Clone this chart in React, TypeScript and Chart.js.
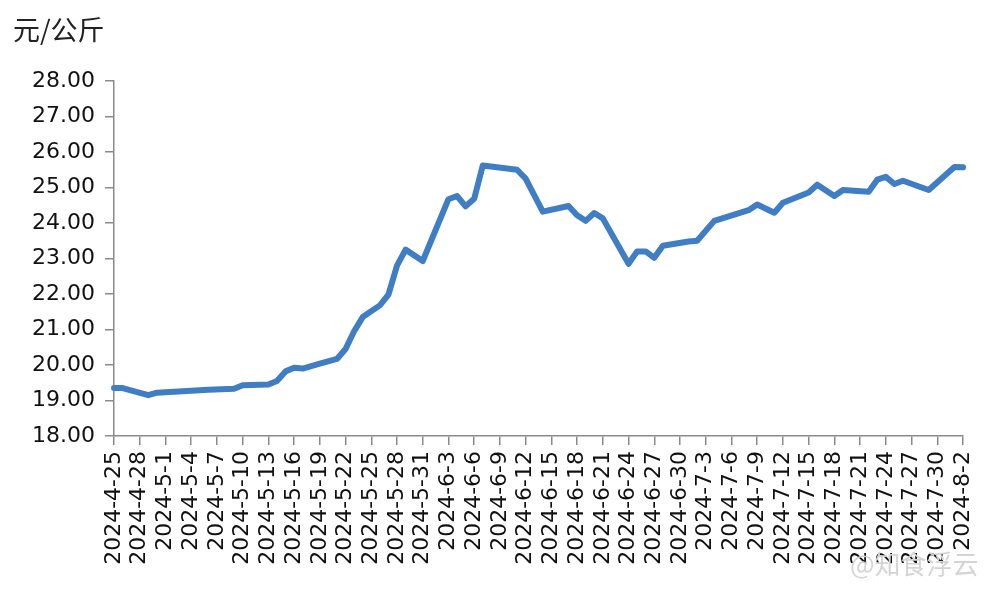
import React, { useEffect, useRef } from 'react';
import { Chart, registerables } from 'chart.js';

Chart.register(...registerables);

const categories: string[] = [
  '2024-4-25', '2024-4-26', '2024-4-27', '2024-4-28', '2024-4-29', '2024-4-30',
  '2024-5-1', '2024-5-2', '2024-5-3', '2024-5-4', '2024-5-5', '2024-5-6', '2024-5-7', '2024-5-8', '2024-5-9', '2024-5-10',
  '2024-5-11', '2024-5-12', '2024-5-13', '2024-5-14', '2024-5-15', '2024-5-16', '2024-5-17', '2024-5-18', '2024-5-19', '2024-5-20',
  '2024-5-21', '2024-5-22', '2024-5-23', '2024-5-24', '2024-5-25', '2024-5-26', '2024-5-27', '2024-5-28', '2024-5-29', '2024-5-30', '2024-5-31',
  '2024-6-1', '2024-6-2', '2024-6-3', '2024-6-4', '2024-6-5', '2024-6-6', '2024-6-7', '2024-6-8', '2024-6-9', '2024-6-10',
  '2024-6-11', '2024-6-12', '2024-6-13', '2024-6-14', '2024-6-15', '2024-6-16', '2024-6-17', '2024-6-18', '2024-6-19', '2024-6-20',
  '2024-6-21', '2024-6-22', '2024-6-23', '2024-6-24', '2024-6-25', '2024-6-26', '2024-6-27', '2024-6-28', '2024-6-29', '2024-6-30',
  '2024-7-1', '2024-7-2', '2024-7-3', '2024-7-4', '2024-7-5', '2024-7-6', '2024-7-7', '2024-7-8', '2024-7-9', '2024-7-10',
  '2024-7-11', '2024-7-12', '2024-7-13', '2024-7-14', '2024-7-15', '2024-7-16', '2024-7-17', '2024-7-18', '2024-7-19', '2024-7-20',
  '2024-7-21', '2024-7-22', '2024-7-23', '2024-7-24', '2024-7-25', '2024-7-26', '2024-7-27', '2024-7-28', '2024-7-29', '2024-7-30', '2024-7-31',
  '2024-8-1', '2024-8-2',
];

// price, yuan per kg (null = no quote that day; line spans gaps)
const prices: (number | null)[] = [
  19.35, 19.35, null, null, 19.15, 19.22,
  null, null, null, null, null, 19.30, null, null, 19.33, 19.43,
  null, null, 19.45, 19.55, 19.82, 19.92, 19.90, null, 20.04, null,
  20.17, 20.45, 20.95, 21.35, null, 21.68, 21.98, 22.80, 23.25, null, 22.93,
  null, null, 24.67, 24.76, 24.47, 24.68, 25.62, null, null, null,
  25.50, 25.25, null, 24.32, null, null, 24.48, 24.22, 24.06, 24.28,
  24.13, null, null, 22.85, 23.20, 23.20, 23.02, 23.36, null, null,
  23.48, 23.50, null, 24.06, null, null, null, 24.36, 24.52, null,
  24.29, 24.57, null, null, 24.86, 25.08, null, 24.76, 24.93, null,
  null, 24.88, 25.22, 25.30, 25.10, 25.19, null, null, 24.93, null, null,
  25.58, 25.57,
];

const yMin = 18;
const yMax = 28;
const yStep = 1;
const unitLabel = '元/公斤';
const watermark = '@知食浮云';

export default function App() {
  const canvasRef = useRef<HTMLCanvasElement | null>(null);

  useEffect(() => {
    document.body.style.margin = '0';
    const canvas = canvasRef.current;
    if (!canvas) return;
    const axisColor = '#8a8a8a';
    const font = { family: '"DejaVu Sans", sans-serif', size: 22 };
    const chart = new Chart(canvas, {
      type: 'line',
      data: {
        labels: categories,
        datasets: [
          {
            data: prices,
            borderColor: '#3f7dc4',
            borderWidth: 6,
            pointRadius: 0,
            tension: 0,
            spanGaps: true,
            borderJoinStyle: 'round',
            borderCapStyle: 'round',
            fill: false,
          },
        ],
      },
      options: {
        animation: false,
        responsive: false,
        maintainAspectRatio: false,
        layout: { padding: { top: 81, right: 37, left: 0, bottom: 0 } },
        plugins: {
          legend: { display: false },
          tooltip: { enabled: false },
          title: { display: false },
        },
        scales: {
          x: {
            type: 'category',
            offset: false,
            border: { display: true, color: axisColor, width: 1.5 },
            grid: {
              display: true,
              drawOnChartArea: false,
              drawTicks: true,
              tickLength: 9,
              color: axisColor,
              lineWidth: 1.5,
            },
            ticks: {
              autoSkip: false,
              maxRotation: 90,
              minRotation: 90,
              padding: 6,
              color: '#111',
              font,
              callback: (_v: any, i: number) => (i % 3 === 0 ? categories[i] : null),
            },
            afterFit: (s: any) => {
              s.height = 164;
            },
          },
          y: {
            min: yMin,
            max: yMax,
            border: { display: true, color: axisColor, width: 1.5 },
            grid: {
              display: true,
              drawOnChartArea: false,
              drawTicks: true,
              tickLength: 9,
              color: axisColor,
              lineWidth: 1.5,
            },
            ticks: {
              stepSize: yStep,
              padding: 10,
              color: '#111',
              font,
              callback: (v: any) => Number(v).toFixed(2),
            },
            afterFit: (s: any) => {
              s.width = 114;
            },
          },
        },
      },
    });
    return () => chart.destroy();
  }, []);

  return (
    <div style={{ position: 'relative', width: 1000, height: 600, background: '#fff', overflow: 'hidden' }}>
      <canvas ref={canvasRef} width={1000} height={600} style={{ position: 'absolute', left: 0, top: 0, width: 1000, height: 600 }} />
      <div
        style={{
          position: 'absolute',
          left: 13,
          top: 11,
          fontFamily: '"Noto Sans CJK SC", sans-serif',
          fontSize: 27,
          color: '#222',
          lineHeight: '36px',
          whiteSpace: 'nowrap',
        }}
      >
        {unitLabel}
      </div>
      <div
        style={{
          position: 'absolute',
          left: 850,
          top: 546,
          fontFamily: '"Noto Sans CJK SC", sans-serif',
          fontSize: 26,
          color: '#d4d4d4',
          lineHeight: '34px',
          whiteSpace: 'nowrap',
        }}
      >
        {watermark}
      </div>
    </div>
  );
}
